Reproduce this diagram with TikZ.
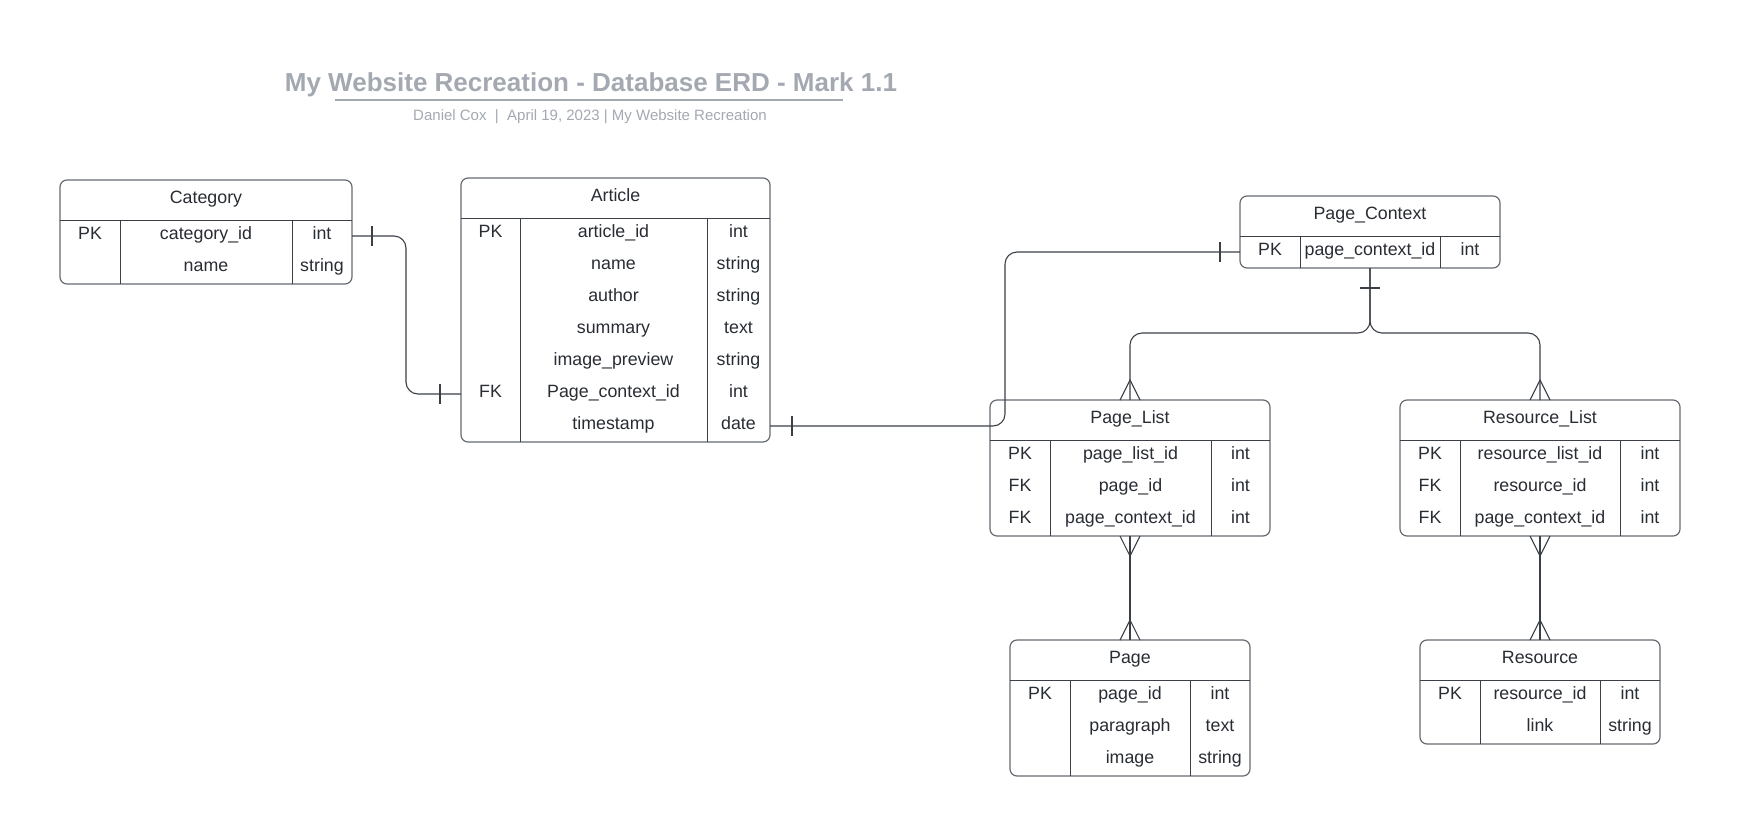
\documentclass[tikz,border=0pt]{standalone}
\usepackage{fontspec}
\setmainfont{Liberation Sans}
\usepackage{tikz}
\usetikzlibrary{calc}
\usepackage{xcolor}
\definecolor{erdLine}{HTML}{3B4047}
\definecolor{erdBox}{HTML}{666B72}
\definecolor{erdText}{HTML}{282C33}
\definecolor{erdTitle}{HTML}{A3A8B1}
\tikzset{
  tblbox/.style={draw=erdBox, line width=1.2pt, rounded corners=7pt, inner sep=0pt, outer sep=0pt},
  grid/.style={draw=erdLine, line width=1pt},
  cell/.style={text=erdText, font=\fontsize{17.8}{20}\selectfont, inner sep=0pt,
    text height=12.7pt, text depth=5.7pt},
  link/.style={draw=erdLine, line width=1.1pt}
}

\begin{document}
\begin{tikzpicture}[x=1pt,y=-1pt]
        \useasboundingbox (0,0) rectangle (1740,836);
        % title block
        \node[text=erdTitle, font=\fontsize{26}{30}\selectfont\bfseries] (title) at (591,84.5)
          {My Website Recreation - Database ERD - Mark 1.1};
        \draw[erdTitle, line width=2pt] (335,100) -- (843,100);
        \node[text=erdTitle, font=\fontsize{15}{18}\selectfont] (subtitle) at (590,117)
          {Daniel Cox\ \ |\ \ April 19, 2023 | My Website Recreation};
        % Category
        \node[tblbox, minimum width=292, minimum height=104] (category) at (206,232) {};
        \draw[grid] (60,220) -- (352,220);
        \draw[grid] (120,220) -- (120,284);
        \draw[grid] (292,220) -- (292,284);
        \node[cell] (cat_h) at (206,200) {Category};
        \node[cell] (cat_id_k) at (90,236) {PK};
        \node[cell] (cat_id) at (206,236) {category\_id};
        \node[cell] (cat_id_t) at (322,236) {int};
        \node[cell] (cat_name) at (206,268) {name};
        \node[cell] (cat_name_t) at (322,268) {string};
        % Article
        \node[tblbox, minimum width=309, minimum height=264] (article) at (615.5,310) {};
        \draw[grid] (461,218) -- (770,218);
        \draw[grid] (520,218) -- (520,442);
        \draw[grid] (707,218) -- (707,442);
        \node[cell] (art_h) at (615.5,198) {Article};
        \node[cell] (art_id_k) at (490.5,234) {PK};
        \node[cell] (art_id) at (613.5,234) {article\_id};
        \node[cell] (art_id_t) at (738.5,234) {int};
        \node[cell] (art_name) at (613.5,266) {name};
        \node[cell] (art_name_t) at (738.5,266) {string};
        \node[cell] (art_author) at (613.5,298) {author};
        \node[cell] (art_author_t) at (738.5,298) {string};
        \node[cell] (art_sum) at (613.5,330) {summary};
        \node[cell] (art_sum_t) at (738.5,330) {text};
        \node[cell] (art_img) at (613.5,362) {image\_preview};
        \node[cell] (art_img_t) at (738.5,362) {string};
        \node[cell] (art_pcid_k) at (490.5,394) {FK};
        \node[cell] (art_pcid) at (613.5,394) {Page\_context\_id};
        \node[cell] (art_pcid_t) at (738.5,394) {int};
        \node[cell] (art_ts) at (613.5,426) {timestamp};
        \node[cell] (art_ts_t) at (738.5,426) {date};
        % Page_Context
        \node[tblbox, minimum width=260, minimum height=72] (pagecontext) at (1370,232) {};
        \draw[grid] (1240,236) -- (1500,236);
        \draw[grid] (1300,236) -- (1300,268);
        \draw[grid] (1440,236) -- (1440,268);
        \node[cell] (pc_h) at (1370,216) {Page\_Context};
        \node[cell] (pc_id_k) at (1270,252) {PK};
        \node[cell] (pc_id) at (1370,252) {page\_context\_id};
        \node[cell] (pc_id_t) at (1470,252) {int};
        % Page_List
        \node[tblbox, minimum width=280, minimum height=136] (pagelist) at (1130,468) {};
        \draw[grid] (990,440) -- (1270,440);
        \draw[grid] (1050,440) -- (1050,536);
        \draw[grid] (1211,440) -- (1211,536);
        \node[cell] (pl_h) at (1130,420) {Page\_List};
        \node[cell] (pl_id_k) at (1020,456) {PK};
        \node[cell] (pl_id) at (1130.5,456) {page\_list\_id};
        \node[cell] (pl_id_t) at (1240.5,456) {int};
        \node[cell] (pl_page_k) at (1020,488) {FK};
        \node[cell] (pl_page) at (1130.5,488) {page\_id};
        \node[cell] (pl_page_t) at (1240.5,488) {int};
        \node[cell] (pl_pc_k) at (1020,520) {FK};
        \node[cell] (pl_pc) at (1130.5,520) {page\_context\_id};
        \node[cell] (pl_pc_t) at (1240.5,520) {int};
        % Resource_List
        \node[tblbox, minimum width=280, minimum height=136] (resourcelist) at (1540,468) {};
        \draw[grid] (1400,440) -- (1680,440);
        \draw[grid] (1460,440) -- (1460,536);
        \draw[grid] (1620,440) -- (1620,536);
        \node[cell] (rl_h) at (1540,420) {Resource\_List};
        \node[cell] (rl_id_k) at (1430,456) {PK};
        \node[cell] (rl_id) at (1540,456) {resource\_list\_id};
        \node[cell] (rl_id_t) at (1650,456) {int};
        \node[cell] (rl_res_k) at (1430,488) {FK};
        \node[cell] (rl_res) at (1540,488) {resource\_id};
        \node[cell] (rl_res_t) at (1650,488) {int};
        \node[cell] (rl_pc_k) at (1430,520) {FK};
        \node[cell] (rl_pc) at (1540,520) {page\_context\_id};
        \node[cell] (rl_pc_t) at (1650,520) {int};
        % Page
        \node[tblbox, minimum width=240, minimum height=136] (page) at (1130,708) {};
        \draw[grid] (1010,680) -- (1250,680);
        \draw[grid] (1070,680) -- (1070,776);
        \draw[grid] (1190,680) -- (1190,776);
        \node[cell] (pg_h) at (1130,660) {Page};
        \node[cell] (pg_id_k) at (1040,696) {PK};
        \node[cell] (pg_id) at (1130,696) {page\_id};
        \node[cell] (pg_id_t) at (1220,696) {int};
        \node[cell] (pg_par) at (1130,728) {paragraph};
        \node[cell] (pg_par_t) at (1220,728) {text};
        \node[cell] (pg_img) at (1130,760) {image};
        \node[cell] (pg_img_t) at (1220,760) {string};
        % Resource
        \node[tblbox, minimum width=240, minimum height=104] (resource) at (1540,692) {};
        \draw[grid] (1420,680) -- (1660,680);
        \draw[grid] (1480,680) -- (1480,744);
        \draw[grid] (1600,680) -- (1600,744);
        \node[cell] (rs_h) at (1540,660) {Resource};
        \node[cell] (rs_id_k) at (1450,696) {PK};
        \node[cell] (rs_id) at (1540,696) {resource\_id};
        \node[cell] (rs_id_t) at (1630,696) {int};
        \node[cell] (rs_link) at (1540,728) {link};
        \node[cell] (rs_link_t) at (1630,728) {string};
        % Category -- Article
        \coordinate (catbend) at (406,0);
        \draw[link, rounded corners=12pt] (category.east |- cat_id) -- (catbend |- cat_id)
          -- (catbend |- art_pcid) -- (article.west |- art_pcid);
        \draw[link] ($(category.east |- cat_id)+(20,-10)$) -- ++(0,20);
        \draw[link] ($(article.west |- art_pcid)+(-21,-10)$) -- ++(0,20);
        % Article -- Page_Context
        \coordinate (ctxbend) at (1005,0);
        \draw[link, rounded corners=12pt] (article.east |- art_ts) -- (ctxbend |- art_ts)
          -- (ctxbend |- pc_id) -- (pagecontext.west |- pc_id);
        \draw[link] ($(article.east |- art_ts)+(22,-10)$) -- ++(0,20);
        \draw[link] ($(pagecontext.west |- pc_id)+(-20,-10)$) -- ++(0,20);
        % Page_Context -- Page_List / Resource_List
        \coordinate (split) at (0,333);
        \draw[link, rounded corners=12pt] (pagecontext.south) -- (pagecontext.south |- split) -| (pagelist.north);
        \draw[link, rounded corners=12pt] (pagecontext.south) -- (pagecontext.south |- split) -| (resourcelist.north);
        \draw[link] ($(pagecontext.south)+(-10,20)$) -- ++(20,0);
        \draw[link] ($(pagelist.north)+(-10,0)$) -- ($(pagelist.north)+(0,-20)$) -- ($(pagelist.north)+(10,0)$);
        \draw[link] ($(resourcelist.north)+(-10,0)$) -- ($(resourcelist.north)+(0,-20)$) -- ($(resourcelist.north)+(10,0)$);
        % Page_List -- Page
        \draw[link] (pagelist.south) -- (page.north);
        \draw[link] ($(pagelist.south)+(-10,0)$) -- ($(pagelist.south)+(0,20)$) -- ($(pagelist.south)+(10,0)$);
        \draw[link] ($(page.north)+(-10,0)$) -- ($(page.north)+(0,-20)$) -- ($(page.north)+(10,0)$);
        % Resource_List -- Resource
        \draw[link] (resourcelist.south) -- (resource.north);
        \draw[link] ($(resourcelist.south)+(-10,0)$) -- ($(resourcelist.south)+(0,20)$) -- ($(resourcelist.south)+(10,0)$);
        \draw[link] ($(resource.north)+(-10,0)$) -- ($(resource.north)+(0,-20)$) -- ($(resource.north)+(10,0)$);
      \end{tikzpicture}
\end{document}
